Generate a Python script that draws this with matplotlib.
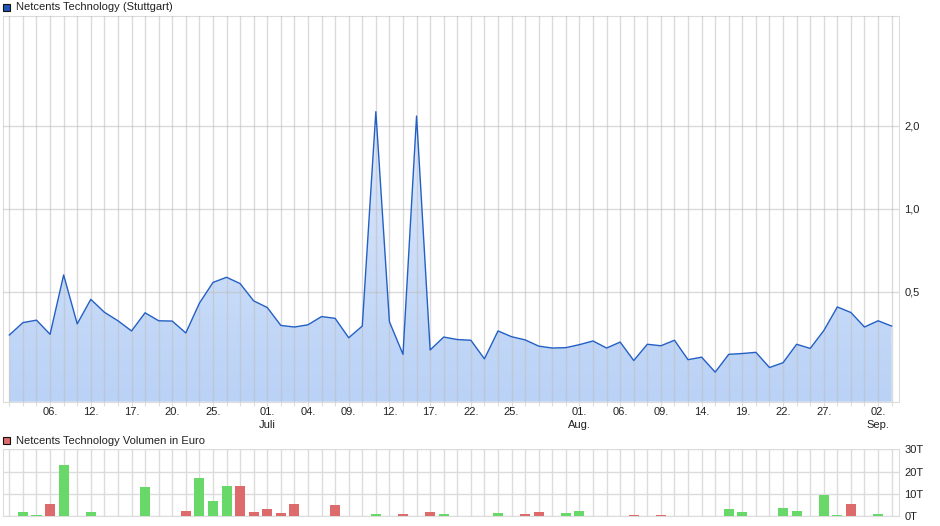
import numpy as np
import matplotlib
matplotlib.use("Agg")
import matplotlib.pyplot as plt
from matplotlib.patches import Rectangle
from matplotlib.colors import LinearSegmentedColormap

plt.rcParams['font.family'] = ['Liberation Sans', 'DejaVu Sans']

# ---------------- data ----------------
prices = [0.349, 0.387, 0.395, 0.351, 0.576, 0.383, 0.470, 0.422, 0.393, 0.361,
          0.420, 0.393, 0.392, 0.355, 0.455, 0.541, 0.565, 0.536, 0.464, 0.439,
          0.378, 0.373, 0.380, 0.407, 0.401, 0.341, 0.376, 2.25, 0.390, 0.297,
          2.17, 0.308, 0.343, 0.336, 0.334, 0.286, 0.361, 0.344, 0.335, 0.318,
          0.313, 0.314, 0.322, 0.332, 0.313, 0.329, 0.282, 0.323, 0.319, 0.334,
          0.284, 0.290, 0.256, 0.297, 0.299, 0.302, 0.266, 0.277, 0.323, 0.312,
          0.362, 0.441, 0.421, 0.373, 0.393, 0.376]

vol_index = [1, 2, 3, 4, 6, 10, 13, 14, 15, 16, 17, 18, 19, 20, 21, 24, 27, 29, 31, 32,
             36, 38, 39, 41, 42, 46, 48, 53, 54, 55, 57, 58, 60, 61, 62, 63, 64]
vol_values = [1.9, 0.6, 5.5, 23.1, 1.9, 13.1, 2.4, 17.2, 6.9, 13.6, 13.6, 1.9, 3.3, 1.5, 5.5, 5.1, 1.0, 1.0, 1.9, 1.0,
              1.6, 1.0, 2.1, 1.6, 2.4, 0.7, 0.7, 3.3, 2.1, 0.3, 3.7, 2.5, 9.7, 0.7, 5.5, 0.3, 1.2]
vol_up = [1, 1, 0, 1, 1, 1, 0, 1, 1, 1, 0, 0, 0, 0, 0, 0, 1, 0, 0, 1,
          1, 0, 0, 1, 1, 0, 0, 1, 1, 1, 1, 1, 1, 1, 0, 0, 1]

xtick_pos = [3, 6, 9, 12, 15, 19, 22, 25, 28, 31, 34, 37, 42, 45, 48, 51, 54, 57, 60, 64]
xtick_labels = ["06.", "12.", "17.", "20.", "25.", "01.\nJuli", "04.", "09.", "12.", "17.",
                "22.", "25.", "01.\nAug.", "06.", "09.", "14.", "19.", "22.", "27.", "02.\nSep."]

price_ticks = [0.5, 1.0, 2.0]
price_tick_labels = ["0,5", "1,0", "2,0"]
vol_ticks = [0, 10, 20, 30]
vol_tick_labels = ["0T", "10T", "20T", "30T"]

title_main = "Netcents Technology (Stuttgart)"
title_vol = "Netcents Technology Volumen in Euro"

# ---------------- figure ----------------
W, H = 940, 526
fig = plt.figure(figsize=(W / 100, H / 100), dpi=100)

def frac(l, t, r, b):
    return [l / W, 1 - b / H, (r - l) / W, (b - t) / H]

grid_c = '#dcdcdc'
text_c = '#222222'
fs = 8.0
n = len(prices)
x = np.arange(n)
all_labels = [''] * n
for p, l in zip(xtick_pos, xtick_labels):
    all_labels[p] = l

ax = fig.add_axes(frac(2.7, 16, 898.7, 401.7))
ax.set_yscale('log')
ax.set_autoscale_on(False)
ymin, ymax = 0.2, 5.0
ax.set_xlim(-0.49, n - 1 + 0.52)
ax.set_ylim(ymin, ymax)

poly = ax.fill_between(x, prices, ymin, facecolor='none', edgecolor='none')
cmap = LinearSegmentedColormap.from_list('g', ['#bad2f6', '#d0e0fa', '#f2f7ff'])
grad = np.linspace(0, 1, 256).reshape(-1, 1)
im = ax.imshow(grad, extent=[0, 1, 0, 1], transform=ax.transAxes, aspect='auto',
               cmap=cmap, origin='lower', zorder=1, interpolation='bilinear')
im.set_clip_path(poly.get_paths()[0], transform=ax.transData)
ax.plot(x, prices, color='#2460c4', lw=1.0, zorder=3)

ax.set_xticks(x)
ax.set_xticklabels(all_labels, linespacing=1.45)
ax.tick_params(axis='x', length=3, color=grid_c, pad=0.5, labelsize=fs, labelcolor=text_c)
ax.yaxis.tick_right()
ax.set_yticks(price_ticks)
ax.set_yticklabels(price_tick_labels)
ax.yaxis.set_minor_locator(matplotlib.ticker.NullLocator())
ax.tick_params(axis='y', length=0, pad=4, labelsize=fs, labelcolor=text_c)
ax.set_axisbelow(False)
ax.grid(True, which='major', color='#bdbdbd', alpha=0.55, lw=1, zorder=2)
for s in ax.spines.values():
    s.set_color(grid_c)

# legend markers
fig.add_artist(Rectangle((3 / W, 1 - 11 / H), 7 / W, 7 / H, transform=fig.transFigure,
                         facecolor='#1f55b8', edgecolor='#111111', lw=0.8))
fig.text(16 / W, 1 - 7.5 / H, title_main, fontsize=fs, color=text_c, va='center', ha='left')

# ---------------- volume ----------------
axv = fig.add_axes(frac(2.7, 449.3, 898.7, 516.3))
axv.set_xlim(-0.49, n - 1 + 0.52)
axv.set_ylim(0, 30)
colors = ['#68d968' if u else '#dd6b6b' for u in vol_up]
axv.bar(vol_index, vol_values, width=0.74, color=colors, zorder=3)
axv.set_xticks(x)
axv.set_xticklabels([])
axv.tick_params(axis='x', length=0)
axv.yaxis.tick_right()
axv.set_yticks(vol_ticks)
axv.set_yticklabels(vol_tick_labels)
axv.tick_params(axis='y', length=0, pad=4, labelsize=fs, labelcolor=text_c)
axv.grid(True, color=grid_c, lw=1, zorder=0)
axv.set_axisbelow(True)
axv.spines['top'].set_visible(False)
for s in ['left', 'bottom', 'right']:
    axv.spines[s].set_color(grid_c)

fig.add_artist(Rectangle((3 / W, 1 - 444 / H), 7 / W, 7 / H, transform=fig.transFigure,
                         facecolor='#dd6b6b', edgecolor='#111111', lw=0.8))
fig.text(16 / W, 1 - 440.5 / H, title_vol, fontsize=fs, color=text_c, va='center', ha='left')

fig.savefig('out.png', dpi=100)
